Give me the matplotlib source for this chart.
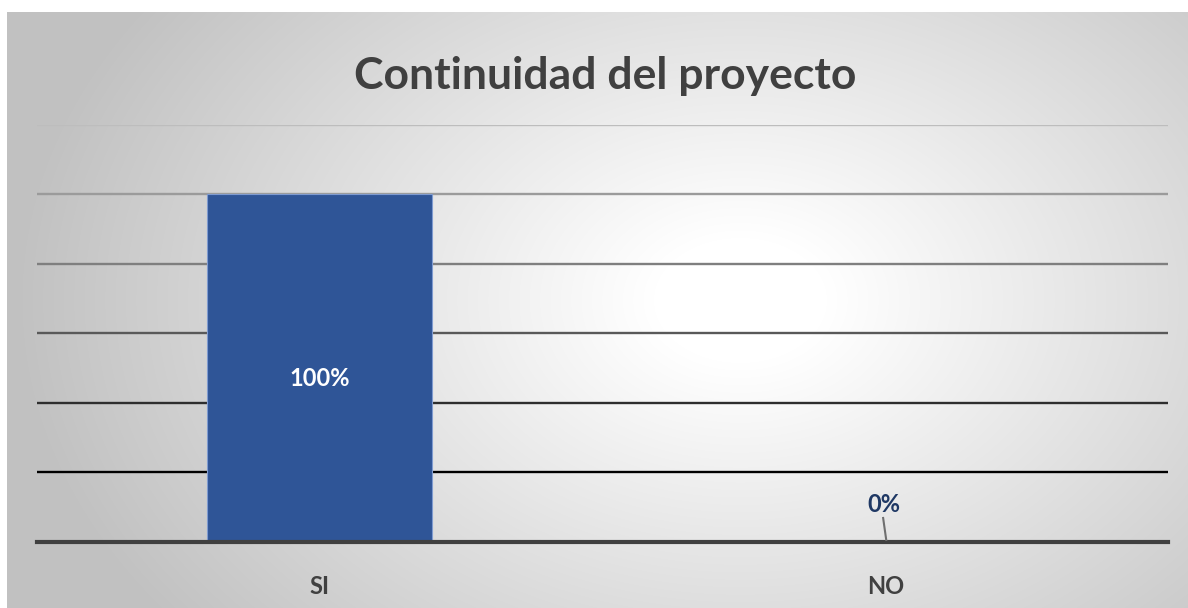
import numpy as np
import matplotlib
matplotlib.use("Agg")
import matplotlib.pyplot as plt

categories = ["SI", "NO"]
values = [100, 0]
value_labels = ["100%", "0%"]
yticks = [0, 20, 40, 60, 80, 100, 120]
title = "Continuidad del proyecto"

W, H = 1188, 608
fig = plt.figure(figsize=(W / 100, H / 100), dpi=100, facecolor="white")
plt.rcParams['font.family'] = ['Lato', 'DejaVu Sans']

# background radial gradient in chart frame
bx0, by0 = 7, 12
bg = fig.add_axes([bx0 / W, 0, 1 - bx0 / W, 1 - by0 / H])
bg.set_axis_off()
nx, ny = W - bx0, H - by0
xx, yy = np.meshgrid(np.arange(nx) + bx0, np.arange(ny) + by0)
cx, cy = 740, 300
r = np.sqrt(((xx - cx) / 720) ** 2 + ((yy - cy) / 520) ** 2)
t = np.clip((r - 0.12) / 0.88, 0, 1)
c = 1.0 - t * (1.0 - 0.76)
img = np.dstack([c, c, c])
bg.imshow(img, aspect="auto", extent=[0, 1, 0, 1], origin="upper")
bg.set_xlim(0, 1)
bg.set_ylim(0, 1)

# plot area
L, R = 37, 1168
T, B = 124.5, 542
ax = fig.add_axes([L / W, 1 - B / H, (R - L) / W, (B - T) / H])
ax.patch.set_alpha(0)
x = np.arange(len(categories))
ax.set_xlim(-0.5, len(categories) - 0.5)
ax.set_ylim(0, 120)

grid_colors = {20: "#000000", 40: "#2e2e2e", 60: "#595959", 80: "#7f7f7f", 100: "#9b9b9b", 120: "#bdbdbd"}
for yv in yticks[1:]:
    ax.axhline(yv, color=grid_colors[yv], lw=1.7, zorder=1)

ax.bar(x, values, width=0.398, color="#2F5597", edgecolor="#7f9bd0", linewidth=0.8, zorder=2)
ax.axhline(0, color="#404040", lw=3, zorder=3, clip_on=False)

for s in ax.spines.values():
    s.set_visible(False)
ax.set_yticks([])
ax.set_xticks(x)
ax.set_xticklabels(categories, fontsize=17, fontweight="bold", color="#404040")
ax.tick_params(axis="x", length=0, pad=24)

# data labels
ax.text(x[0], values[0] / 2 - 3, value_labels[0], ha="center", va="center",
        fontsize=17, fontweight="bold", color="white", zorder=4)
ax.text(x[1] - 0.003, 10.8, value_labels[1], ha="center", va="center",
        fontsize=17, fontweight="bold", color="#1F3864", zorder=4)
ax.plot([x[1] - 0.004, x[1] + 0.002], [7.2, 0.3], color="#6f6f6f", lw=1.5,
        zorder=5, solid_capstyle="butt")

fig.text(605 / W, 1 - 76 / H, title, ha="center", va="center",
         fontsize=32, fontweight="bold", color="#404040")

fig.savefig("out.png", dpi=100, facecolor="white")
